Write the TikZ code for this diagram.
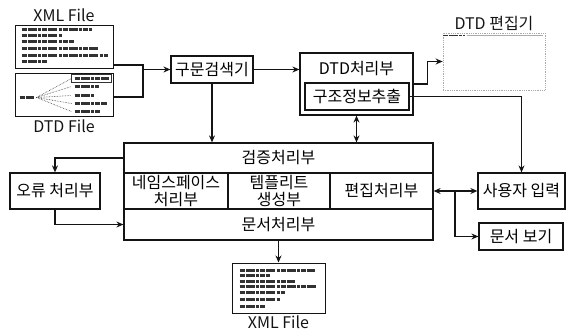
\documentclass[tikz,border=0pt]{standalone}
\usepackage{fontspec}
\setmainfont{Noto Sans CJK KR}
\usepackage{tikz}
\usetikzlibrary{arrows.meta, positioning, calc}
\definecolor{myink}{RGB}{20,20,20}
\definecolor{myscrib}{RGB}{50,50,50}
\definecolor{myfaint}{RGB}{170,170,170}
\tikzset{
  block/.style={rectangle, draw=myink, line width=1.2pt, inner sep=0pt,
    align=center, font=\fontsize{16}{17}\selectfont},
  cell/.style={block, minimum height=36pt},
  filebox/.style={rectangle, draw=myink, line width=1pt, inner sep=0pt},
  caption/.style={inner sep=1pt, font=\fontsize{16}{18}\selectfont, text=myink},
  scrib/.style={line width=2.2pt, color=myscrib,
    dash pattern=on 5pt off 1pt on 9pt off 1.5pt on 3pt off 1pt},
  arrow/.style={-{Stealth[length=7pt, width=6pt]}, line width=1.2pt, color=myink},
  dblarrow/.style={{Stealth[length=7pt, width=6pt]}-{Stealth[length=7pt, width=6pt]},
    line width=1.2pt, color=myink},
  line/.style={line width=1.2pt, color=myink}
}
\begin{document}
\begin{tikzpicture}[x=1pt, y=1pt]
  \useasboundingbox (0,0) rectangle (567,333);

  % input files
  \node[filebox, minimum width=98pt, minimum height=43pt] (xmlin) at (64,286.5) {};
  \node[filebox, minimum width=98pt, minimum height=43pt, below=4pt of xmlin] (dtdin) {};
  \node[caption, above=2pt of xmlin] (xmlcap) {XML File};
  \node[caption, below=2pt of dtdin] (dtdcap) {DTD File};
  \foreach \yy/\len in {5/70, 11/40, 17/52, 24/78, 31/86, 37/26}
    \draw[scrib] ($(xmlin.north west)+(7,-\yy)$) -- ++(\len,0);
  \draw[scrib] ($(dtdin.north west)+(5,-25)$) -- ++(14,0);
  \foreach \yy/\len in {6/34, 14/24, 23/20, 31/32, 39/26} {
    \draw[scrib] ($(dtdin.north west)+(60,-\yy)$) -- ++(\len,0);
    \draw[myscrib, densely dotted, line width=0.6pt]
      ($(dtdin.north west)+(22,-25)$) -- ($(dtdin.north west)+(57,-\yy)$);
  }
  \draw[myscrib, line width=0.8pt] ($(dtdin.north west)+(57,-2)$) rectangle ++(40,-8);

  % parser and DTD processing
  \node[block, minimum width=82pt, minimum height=27pt] (parser) at (212,263.5) {구문검색기};
  \node[block, minimum width=113pt, minimum height=62pt] (dtdproc) at (356.5,249) {};
  \node[inner sep=0pt, font=\fontsize{16}{17}\selectfont] (dtdname) at (356.5,264) {DTD처리부};
  \node[block, minimum width=104pt, minimum height=27pt] (extract) at (357,236.5) {구조정보추출};

  % DTD editor
  \node[draw=myfaint, densely dotted, line width=0.8pt, minimum width=102pt,
    minimum height=57pt] (editshot) at (494,271.5) {};
  \node[caption, above=1pt of editshot] (editcap) {DTD 편집기};
  \draw[scrib, line width=1.5pt] ($(editshot.north west)+(0,-3)$) -- ++(22,0);
  \draw[myfaint, line width=0.8pt] ($(editshot.north west)+(24,-3)$) -- ++(76,0);

  % main processing block
  \node[block, minimum width=309pt, minimum height=30pt] (verify) at (278.5,175) {검증처리부};
  \node[cell, minimum width=104pt] (ns) at (176,142) {네임스페이스\\처리부};
  \node[cell, minimum width=102pt] (tmpl) at (279,142) {템플리트\\생성부};
  \node[cell, minimum width=103pt] (edit) at (381.5,142) {편집처리부};
  \node[block, minimum width=309pt, minimum height=31pt] (doc) at (278.5,108.5) {문서처리부};

  \node[cell, minimum width=90pt] (err) at (55,142) {오류 처리부};
  \node[cell, minimum width=87pt] (userin) at (521.5,142) {사용자 입력};
  \node[block, minimum width=84pt, minimum height=27pt] (view) at (521,96.5) {문서 보기};

  % output file
  \node[filebox, minimum width=93pt, minimum height=50pt] (xmlout) at (278.5,45) {};
  \node[caption, below=1pt of xmlout] (outcap) {XML File};
  \foreach \yy/\len in {8/75, 13/30, 19/55, 24/78, 30/45, 37/40, 44/25}
    \draw[scrib] ($(xmlout.north west)+(8,-\yy)$) -- ++(\len,0);

  % connectors
  \coordinate (brk) at (143,263.5);
  \coordinate (brktop) at (143,268);
  \coordinate (brkbot) at (143,236);
  \draw[line] (xmlin.east |- brktop) -- (brktop) -- (brkbot) -- (dtdin.east |- brkbot);
  \draw[arrow] (brk) -- (parser);
  \draw[arrow] (parser.east) -- (parser.east -| dtdproc.west);
  \draw[arrow] (parser.south) -- (parser.south |- verify.north);
  \draw[dblarrow] (dtdproc.south) -- (dtdproc.south |- verify.north);
  \draw[arrow] (dtdproc.east) -- ++(14,0) |- (editshot.west);
  \draw[arrow] (extract.east) -| (userin.north);
  \draw[arrow] (verify.west) -| (err.north);
  \draw[arrow] (err.south) |- (doc.west);
  \draw[arrow] (doc.south) -- (xmlout.north);
  \draw[dblarrow] (edit.east) -- (userin.west);
  \coordinate (split) at (455,142);
  \draw[arrow] (split) |- (view.west);
\end{tikzpicture}
\end{document}
